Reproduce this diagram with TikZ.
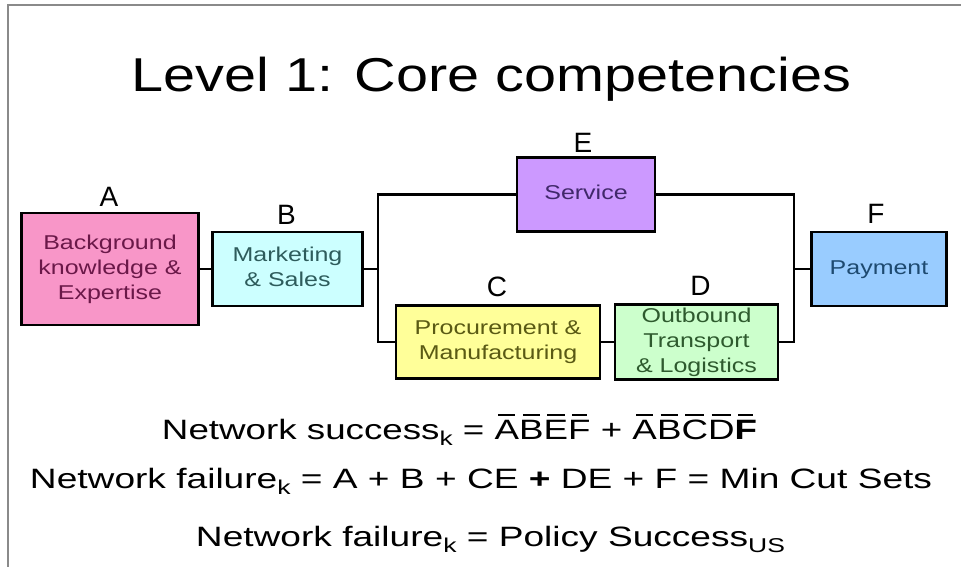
\documentclass[tikz,border=0pt]{standalone}
\usepackage{fontspec}
\setmainfont{Liberation Sans}
\usepackage{graphicx}
\usetikzlibrary{calc}
\definecolor{fillA}{HTML}{F896C8}
\definecolor{fillB}{HTML}{CCFFFF}
\definecolor{fillC}{HTML}{FFFF99}
\definecolor{fillD}{HTML}{CCFFCC}
\definecolor{fillE}{HTML}{CC99FF}
\definecolor{fillF}{HTML}{99CCFF}
\definecolor{txtA}{HTML}{6A1848}
\definecolor{txtB}{HTML}{2E5C5C}
\definecolor{txtC}{HTML}{5A5A14}
\definecolor{txtD}{HTML}{2E5A2E}
\definecolor{txtE}{HTML}{40286A}
\definecolor{txtF}{HTML}{1E4A70}
\definecolor{frame}{HTML}{8A8A8A}
\newcommand\boxtxt[1]{\scalebox{1.25}[1]{\fontsize{20}{25}\selectfont\begin{tabular}{@{}c@{}}#1\end{tabular}}}
\newcommand\ob[1]{\setbox0\hbox{#1}\rlap{\hskip.1em\rule[0.82em]{\dimexpr\wd0-.2em\relax}{.07em}}\box0\relax}
\newcommand\lowsub[1]{\raisebox{-0.22em}{\fontsize{20}{20}\selectfont #1}}
\begin{document}
\begin{tikzpicture}[x=1pt,y=-1pt,
  cbox/.style={draw=black, line width=2.6pt, inner sep=0pt, align=center},
  conn/.style={line width=2.6pt},
  lab/.style={font=\fontsize{28}{28}\selectfont, anchor=base, inner sep=0pt},
  eq/.style={anchor=base, inner sep=0pt}]
\useasboundingbox (0,0) rectangle (961,567);
\draw[frame, line width=2pt] (8,567) -- (8,5) -- (961,5);

\node[eq] (title) at (491.5,92) {\resizebox{719pt}{\height}{\fontsize{47.5}{50}\selectfont Level 1: Core competencies}};

\node[cbox, fill=fillA, text=txtA, minimum width=177pt, minimum height=112pt] (A) at (110,269) {\boxtxt{Background\\knowledge \&\\Expertise}};
\node[cbox, fill=fillB, text=txtB, minimum width=150pt, minimum height=74pt] (B) at (287.5,269) {\boxtxt{Marketing\\\& Sales}};
\node[cbox, fill=fillE, text=txtE, minimum width=138pt, minimum height=74pt] (E) at (586,194.5) {\boxtxt{Service}};
\node[cbox, fill=fillC, text=txtC, minimum width=204pt, minimum height=73pt] (C) at (498,342) {\boxtxt{Procurement \&\\Manufacturing}};
\node[cbox, fill=fillD, text=txtD, minimum width=163pt, minimum height=73pt] (D) at (696.5,342) {\boxtxt{Outbound\\Transport\\\& Logistics}};
\node[cbox, fill=fillF, text=txtF, minimum width=135pt, minimum height=74pt] (F) at (879,269) {\boxtxt{Payment}};

\node[lab] (lA) at ($(A.north)+(-1,-5)$) {A};
\node[lab] (lB) at ($(B.north)+(-1,-6)$) {B};
\node[lab] (lE) at ($(E.north)+(-3,-4)$) {E};
\node[lab] (lC) at ($(C.north)+(-1,-8)$) {C};
\node[lab] (lD) at ($(D.north)+(4,-8)$) {D};
\node[lab] (lF) at ($(F.north)+(-3,-7)$) {F};

\coordinate (jlb) at (378,342);
\coordinate (jrb) at (794,342);
\draw[conn] (A) -- (B);
\draw[conn] (B.east) -- (B.east -| jlb);
\draw[conn] (E.west) -| (jlb) -- (C.west);
\draw[conn] (C) -- (D);
\draw[conn] (E.east) -| (jrb) -- (D.east);
\draw[conn] (F.west) -- (F.west -| jrb);

\node[eq] (s1) at (459.5,439) {\resizebox{595pt}{\height}{\fontsize{28}{30}\selectfont Network success\lowsub{k} = \ob{A}\ob{B}\ob{E}\ob{F} + \ob{A}\ob{B}\ob{C}\ob{D}\ob{\textbf{F}}}};
\node[eq] (s2) at (481,488) {\resizebox{902pt}{\height}{\fontsize{28}{30}\selectfont Network failure\lowsub{k} = A + B + CE \textbf{+} DE + F = Min Cut Sets}};
\node[eq] (s3) at (490.5,546) {\resizebox{589pt}{\height}{\fontsize{28}{30}\selectfont Network failure\lowsub{k} = Policy Success\lowsub{US}}};
\end{tikzpicture}
\end{document}
